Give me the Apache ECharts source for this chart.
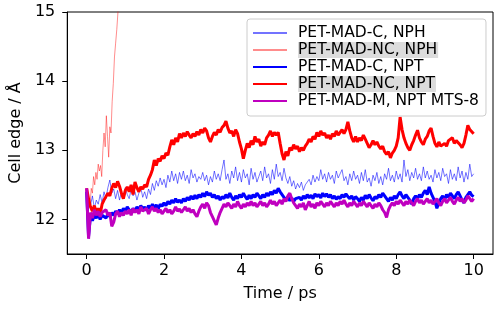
<!DOCTYPE html>
<html><head><meta charset="utf-8">
<script src="https://cdn.jsdelivr.net/npm/echarts@6/dist/echarts.min.js"></script>
<style>html,body{margin:0;padding:0;background:#fff}#c{width:498px;height:312px}</style>
</head><body><div id="c"></div>
<script>
const seriesNames = ['PET-MAD-C, NPH', 'PET-MAD-NC, NPH', 'PET-MAD-C, NPT', 'PET-MAD-NC, NPT', 'PET-MAD-M, NPT MTS-8'];
const xTicks = [0, 2, 4, 6, 8, 10];
const yTicks = [12, 13, 14, 15];
const sampleStep = 0.05; // ps between samples of the main trajectories

const cNph = [
12.42,12.30,12.20,12.34,12.16,12.28,12.22,12.36,12.24,12.40,
12.30,12.46,12.57,12.38,12.44,12.30,12.42,12.28,12.40,12.34,
12.46,12.36,12.30,12.44,12.34,12.40,12.28,12.38,12.46,12.32,
12.40,12.30,12.44,12.36,12.52,12.42,12.56,12.48,12.60,12.50,
12.58,12.46,12.64,12.54,12.70,12.56,12.66,12.52,12.68,12.58,
12.70,12.56,12.64,12.52,12.72,12.60,12.66,12.54,12.62,12.58,
12.68,12.56,12.64,12.50,12.62,12.54,12.70,12.58,12.66,12.56,
12.72,12.86,12.58,12.66,12.52,12.70,12.60,12.76,12.56,12.68,
12.54,12.72,12.60,12.66,12.50,12.74,12.58,12.68,12.54,12.62,
12.70,12.56,12.76,12.60,12.66,12.52,12.72,12.58,12.80,12.62,
12.68,12.56,12.74,12.60,12.52,12.62,12.48,12.56,12.44,12.52,
12.46,12.54,12.42,12.50,12.48,12.58,12.50,12.64,12.54,12.62,
12.56,12.72,12.58,12.66,12.54,12.68,12.58,12.64,12.52,12.70,
12.60,12.66,12.72,12.56,12.62,12.50,12.66,12.56,12.70,12.58,
12.64,12.52,12.68,12.56,12.72,12.54,12.60,12.48,12.64,12.56,
12.68,12.52,12.62,12.50,12.66,12.58,12.74,12.56,12.64,12.54,
12.70,12.58,12.66,12.54,12.86,12.62,12.72,12.56,12.68,12.60,
12.74,12.58,12.66,12.56,12.76,12.60,12.70,12.58,12.64,12.54,
12.72,12.60,12.68,12.56,12.74,12.62,12.66,12.52,12.72,12.58,
12.66,12.56,12.76,12.60,12.70,12.54,12.68,12.58,12.80,12.62,12.66];

const ncNphTime = [0.00,0.03,0.06,0.09,0.12,0.15,0.18,0.21,0.24,0.27,0.30,0.33,0.36,0.39,0.42,0.45,0.48,0.51,0.54,0.57,0.60,0.63,0.66,0.69,0.72,0.75,0.78,0.81,0.84,0.87];
const ncNph = [12.40,12.05,12.30,12.22,12.45,12.38,12.62,12.50,12.68,12.58,12.80,12.70,12.78,12.62,13.00,13.25,13.05,13.50,13.20,12.90,13.34,13.25,13.70,13.97,14.35,14.55,14.75,15.00,15.40,15.80];

const cNpt = [
12.40,11.75,12.05,11.98,12.06,12.02,12.08,12.00,12.06,12.04,
12.02,12.08,12.04,12.10,12.06,12.12,12.08,12.14,12.10,12.16,
12.12,12.18,12.14,12.10,12.16,12.12,12.18,12.14,12.20,12.15,
12.18,12.13,12.20,12.16,12.22,12.17,12.21,12.15,12.22,12.19,
12.24,12.20,12.26,12.22,12.28,12.24,12.30,12.25,12.28,12.24,
12.30,12.26,12.32,12.28,12.34,12.29,12.35,12.30,12.36,12.32,
12.38,12.33,12.40,12.35,12.38,12.32,12.36,12.30,12.34,12.28,
12.33,12.30,12.36,12.31,12.38,12.32,12.28,12.34,12.30,12.36,
12.32,12.38,12.33,12.29,12.35,12.30,12.36,12.32,12.38,12.34,
12.30,12.36,12.32,12.38,12.34,12.40,12.36,12.42,12.38,12.45,
12.40,12.36,12.32,12.28,12.33,12.27,12.31,12.26,12.30,12.28,
12.32,12.28,12.34,12.30,12.36,12.31,12.35,12.30,12.37,12.33,
12.36,12.31,12.38,12.33,12.37,12.32,12.36,12.30,12.34,12.29,
12.33,12.30,12.36,12.32,12.37,12.33,12.30,12.34,12.28,12.33,
12.30,12.26,12.32,12.28,12.35,12.30,12.36,12.31,12.27,12.33,
12.30,12.36,12.32,12.38,12.34,12.30,12.26,12.32,12.28,12.34,
12.30,12.36,12.40,12.34,12.30,12.36,12.32,12.28,12.22,12.30,
12.34,12.30,12.36,12.32,12.38,12.42,12.36,12.47,12.38,12.32,
12.26,12.16,12.24,12.30,12.34,12.28,12.36,12.32,12.38,12.34,
12.30,12.36,12.40,12.34,12.28,12.24,12.32,12.36,12.40,12.35,12.33];

const ncNpt = [
12.45,12.30,12.18,12.12,12.20,12.10,12.16,12.08,12.22,12.28,
12.33,12.38,12.34,12.45,12.52,12.46,12.55,12.48,12.38,12.30,
12.42,12.47,12.40,12.50,12.36,12.54,12.46,12.40,12.47,12.44,
12.50,12.47,12.58,12.64,12.72,12.86,12.78,12.88,12.84,12.92,
12.88,12.96,12.93,13.05,13.15,13.08,13.18,13.12,13.24,13.18,
13.25,13.20,13.27,13.22,13.18,13.24,13.20,13.27,13.22,13.30,
13.25,13.32,13.28,13.18,13.12,13.20,13.26,13.22,13.30,13.26,
13.33,13.36,13.42,13.32,13.25,13.28,13.20,13.30,13.24,13.12,
13.02,12.88,13.00,13.10,13.04,13.14,13.08,13.20,13.12,13.16,
13.06,13.12,13.08,13.18,13.22,13.28,13.20,13.26,13.22,13.26,
13.10,12.95,12.86,12.98,12.92,13.04,13.00,13.08,13.02,13.06,
12.98,13.04,13.00,13.06,13.10,13.16,13.12,13.20,13.16,13.26,
13.20,13.28,13.22,13.25,13.18,13.22,13.16,13.24,13.20,13.28,
13.22,13.26,13.30,13.24,13.30,13.41,13.28,13.18,13.12,13.20,
13.12,13.18,13.14,13.22,13.16,13.10,13.04,13.08,13.14,13.08,
13.12,13.06,13.02,13.06,12.98,12.94,12.98,12.89,12.96,13.00,
13.06,13.18,13.48,13.30,13.18,13.10,13.04,13.00,13.08,13.14,
13.22,13.29,13.18,13.12,13.08,13.16,13.20,13.28,13.32,13.20,
13.10,13.05,13.12,13.06,13.04,13.10,13.06,13.14,13.12,13.18,
13.10,13.14,13.16,13.08,13.04,13.10,13.22,13.36,13.30,13.28,13.24];

const mNptMts8 = [
12.45,11.72,12.10,12.02,12.14,12.06,12.12,12.04,12.10,12.08,
12.14,12.06,12.10,11.90,11.96,12.08,12.12,12.04,12.10,12.06,
12.12,12.08,12.14,12.06,12.16,12.10,12.14,12.08,12.18,12.12,
12.10,12.16,12.08,12.14,12.18,12.12,12.16,12.10,12.14,12.08,
12.12,12.16,12.10,12.14,12.08,12.12,12.18,12.12,12.15,12.10,
12.14,12.18,12.12,12.16,12.10,12.14,12.08,12.04,12.12,12.18,
12.22,12.16,12.24,12.20,12.10,12.04,11.98,11.92,12.02,12.10,
12.16,12.22,12.18,12.24,12.20,12.16,12.22,12.18,12.26,12.20,
12.16,12.22,12.18,12.24,12.20,12.26,12.20,12.24,12.18,12.22,
12.26,12.20,12.24,12.18,12.22,12.28,12.22,12.26,12.20,12.24,
12.28,12.22,12.30,12.26,12.34,12.38,12.30,12.24,12.20,12.16,
12.22,12.18,12.24,12.14,12.20,12.26,12.18,12.22,12.16,12.24,
12.20,12.26,12.22,12.18,12.24,12.20,12.26,12.22,12.18,12.24,
12.20,12.26,12.22,12.28,12.22,12.18,12.24,12.20,12.26,12.22,
12.18,12.24,12.20,12.26,12.22,12.18,12.24,12.20,12.16,12.22,
12.18,12.24,12.20,12.14,12.10,12.03,12.14,12.20,12.24,12.20,
12.26,12.22,12.28,12.24,12.20,12.26,12.22,12.28,12.24,12.20,
12.26,12.30,12.24,12.28,12.22,12.26,12.30,12.24,12.28,12.22,
12.26,12.30,12.24,12.20,12.26,12.30,12.24,12.28,12.32,12.26,
12.22,12.28,12.32,12.26,12.30,12.24,12.28,12.34,12.30,12.26,12.30];

function pair(vals) { return vals.map((v, i) => [+(i * sampleStep).toFixed(3), v]); }
function pairT(ts, vals) { return vals.map((v, i) => [ts[i], v]); }

const FONT = 'DejaVu Sans';
const chart = echarts.init(document.getElementById('c'), null, { renderer: 'canvas' });
const mk = (name, data, color, width) => ({
  name, type: 'line', data, showSymbol: false, symbol: 'none',
  lineStyle: { color, width }, itemStyle: { color }, animation: false, clip: true
});

chart.setOption({
  animation: false,
  textStyle: { fontFamily: FONT },
  grid: { left: 66, right: 5, top: 12, bottom: 58, show: true, borderColor: '#000', borderWidth: 1, backgroundColor: 'transparent' },
  legend: {
    left: 247, top: 19, orient: 'vertical',
    data: seriesNames,
    itemWidth: 34, itemHeight: 14, itemGap: 1,
    padding: [6, 6, 7, 5],
    backgroundColor: 'rgba(255,255,255,0.85)', borderColor: '#cccccc', borderWidth: 1, borderRadius: 3,
    selectedMode: false,
    itemStyle: { opacity: 0 },
    formatter: n => n.indexOf('NC') >= 0 ? '{hl|' + n + '}' : '{n|' + n + '}',
    textStyle: {
      fontFamily: FONT, fontSize: 15.5, color: '#000', padding: [0, 0, 0, 6],
      rich: {
        hl: { fontFamily: FONT, fontSize: 15.5, color: '#000', backgroundColor: '#dcdcdc', lineHeight: 15, padding: [0, 1, 0, 0] },
        n: { fontFamily: FONT, fontSize: 15.5, color: '#000', lineHeight: 15, padding: [0, 1, 0, 0] }
      }
    }
  },
  xAxis: {
    type: 'value', min: -0.5, max: 10.5,
    name: 'Time / ps', nameLocation: 'middle', nameGap: 32,
    nameTextStyle: { fontFamily: FONT, fontSize: 16, color: '#000' },
    axisLine: { show: true, onZero: false, lineStyle: { color: '#000', width: 1 } },
    axisTick: { show: true, length: 5, lineStyle: { color: '#000' }, customValues: xTicks },
    axisLabel: { fontFamily: FONT, fontSize: 16, color: '#000', margin: 9, customValues: xTicks },
    splitLine: { show: false }
  },
  yAxis: {
    type: 'value', min: 11.5, max: 15,
    name: 'Cell edge / Å', nameLocation: 'middle', nameGap: 42, nameRotate: 90,
    nameTextStyle: { fontFamily: FONT, fontSize: 16, color: '#000' },
    axisLine: { show: true, onZero: false, lineStyle: { color: '#000', width: 1 } },
    axisTick: { show: true, length: 5, lineStyle: { color: '#000' }, customValues: yTicks },
    axisLabel: { fontFamily: FONT, fontSize: 16, color: '#000', margin: 12, customValues: yTicks },
    splitLine: { show: false }
  },
  series: [
    mk(seriesNames[0], pair(cNph), 'rgba(0,0,255,0.55)', 1),
    mk(seriesNames[1], pairT(ncNphTime, ncNph), 'rgba(255,0,0,0.45)', 1),
    mk(seriesNames[2], pair(cNpt), '#0000ff', 3),
    mk(seriesNames[3], pair(ncNpt), '#ff0000', 3),
    mk(seriesNames[4], pair(mNptMts8), '#bf00bf', 3)
  ]
});
</script></body></html>
